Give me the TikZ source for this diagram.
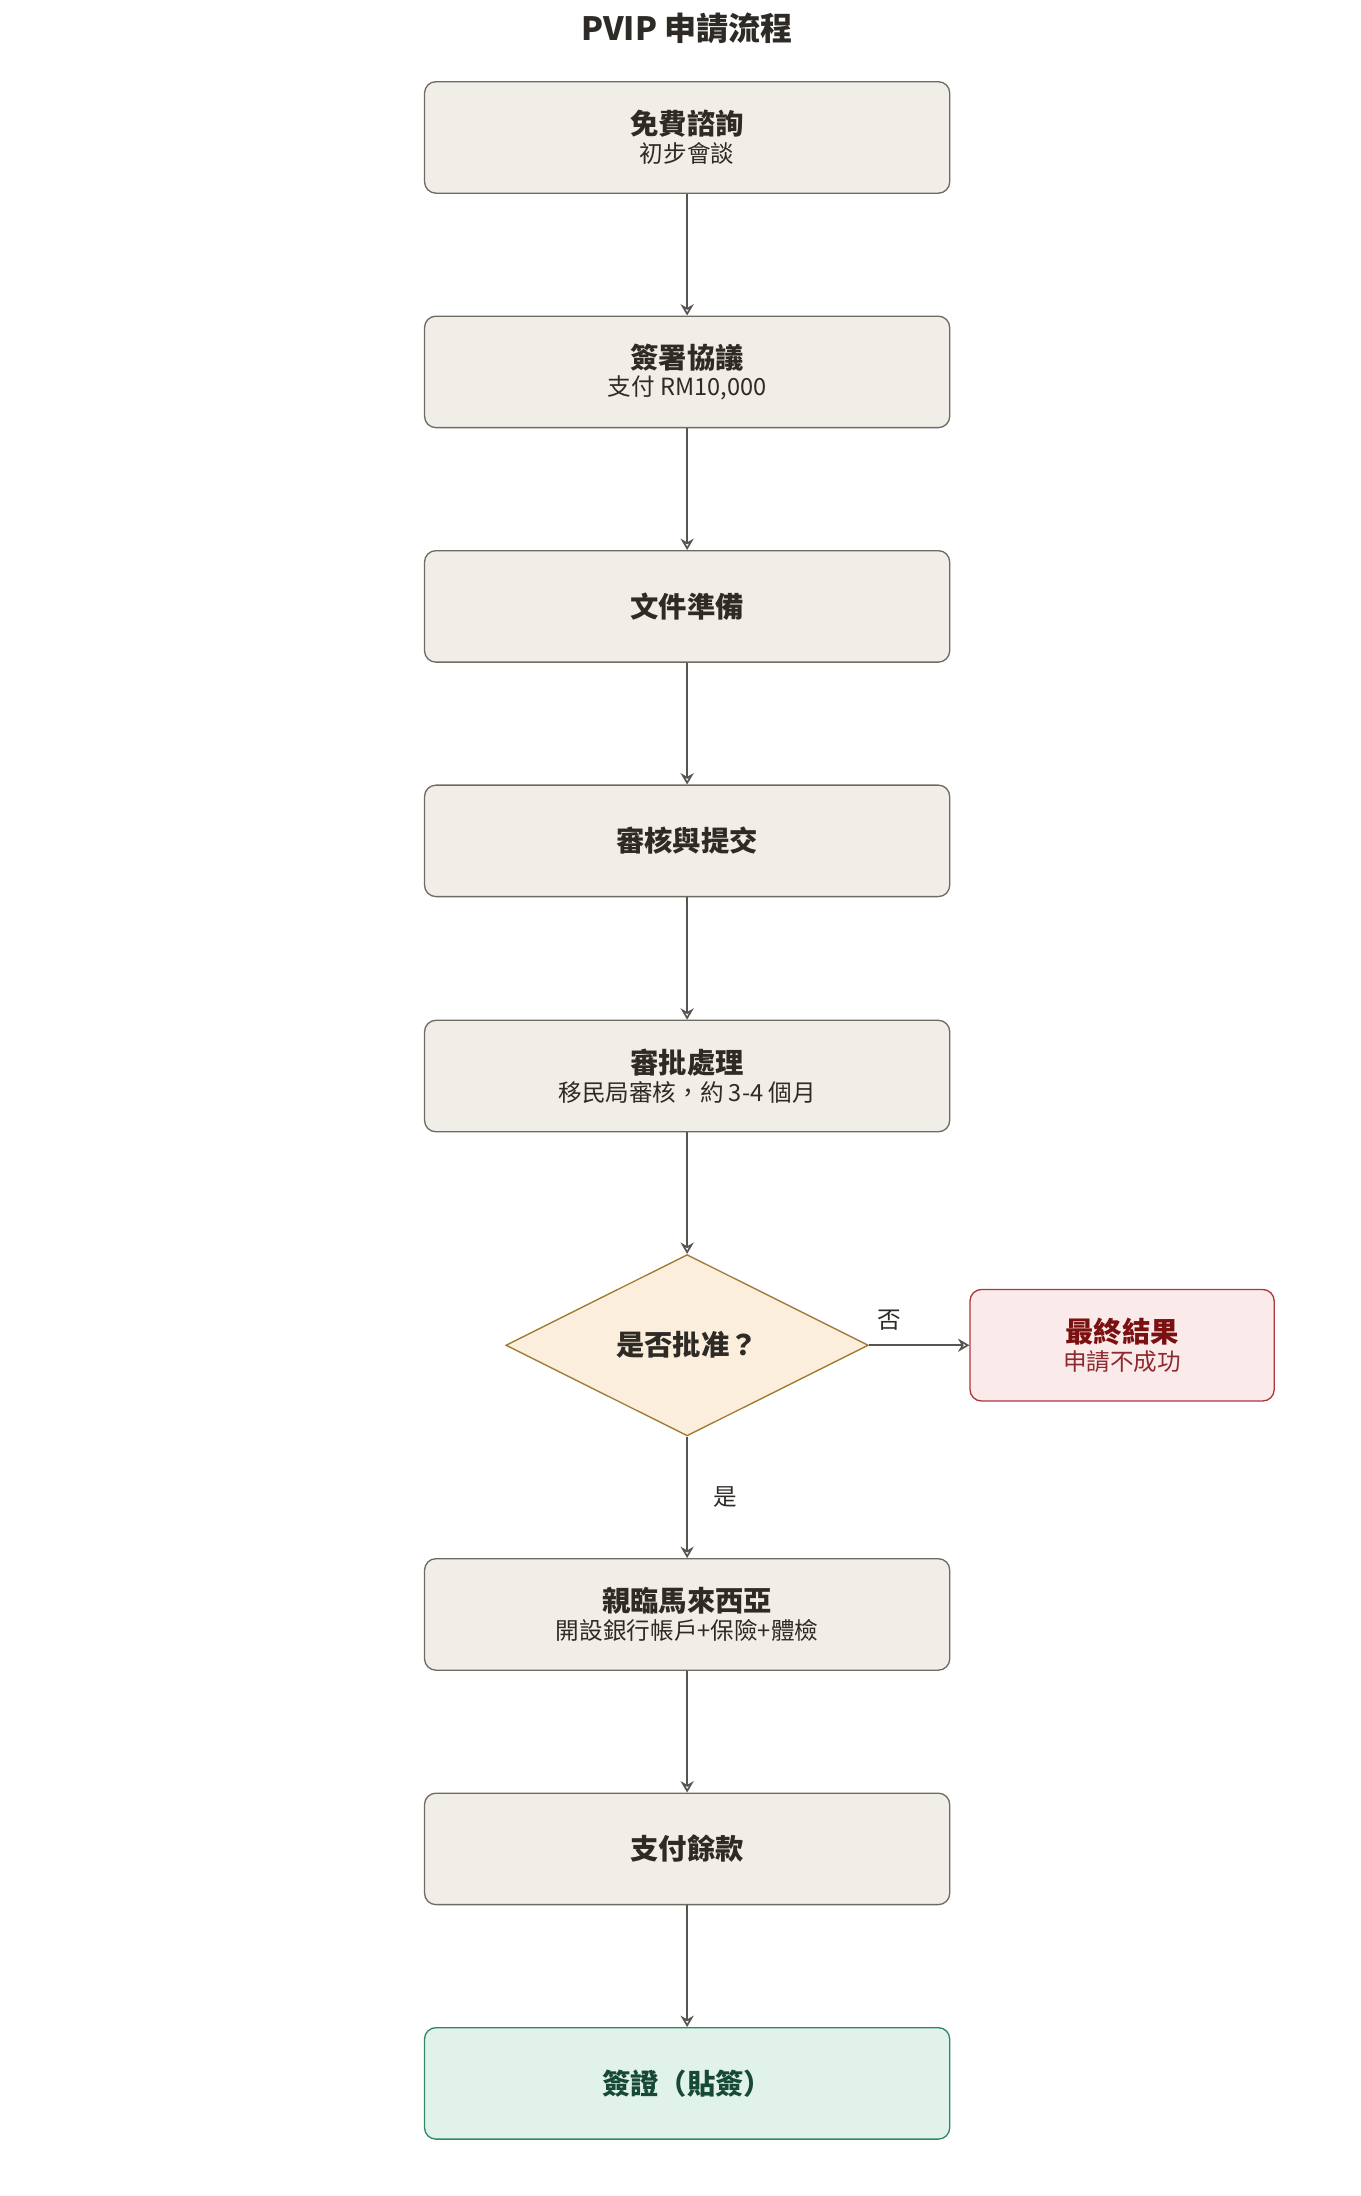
\documentclass[tikz,border=0pt]{standalone}
\usepackage{fontspec}
\setmainfont{Noto Sans CJK TC}
\usetikzlibrary{shapes.geometric,arrows.meta}
\definecolor{boxfill}{HTML}{F1EEE7}
\definecolor{boxdraw}{HTML}{6E6A64}
\definecolor{dfill}{HTML}{FBEEDC}
\definecolor{ddraw}{HTML}{A07830}
\definecolor{rfill}{HTML}{FBEAEA}
\definecolor{rdraw}{HTML}{B0343C}
\definecolor{rtext}{HTML}{7A1010}
\definecolor{gfill}{HTML}{E0F2EA}
\definecolor{gdraw}{HTML}{2E8A62}
\definecolor{gtext}{HTML}{174A35}
\definecolor{txt}{HTML}{2E2A26}
\begin{document}
\begin{tikzpicture}[x=0.75pt,y=-0.75pt,
  box/.style={draw=boxdraw,fill=boxfill,rounded corners=6pt,minimum width=278pt,minimum height=59pt,align=center,text=txt,line width=0.7pt},
  t/.style={font=\fontsize{15}{18}\selectfont\bfseries},
  s/.style={font=\fontsize{12.5}{15}\selectfont},
  arr/.style={draw=boxdraw!80!black,line width=0.9pt,-{Stealth[open,length=6pt,width=7pt]}},
  lab/.style={font=\fontsize{12.5}{15}\selectfont,text=txt}]
\useasboundingbox (0,0) rectangle (960,1550);
\node[font=\fontsize{17}{20}\selectfont\bfseries,text=txt] (title) at (485,20) {PVIP 申請流程};
\node[box] (b1) at (485,97) {{\fontsize{15}{18}\selectfont\bfseries 免費諮詢}\\[2pt]{\fontsize{12.5}{15}\selectfont 初步會談}};
\node[box] (b2) at (485,262.5) {{\fontsize{15}{18}\selectfont\bfseries 簽署協議}\\[2pt]{\fontsize{12.5}{15}\selectfont 支付 RM10,000}};
\node[box,t] (b3) at (485,428) {文件準備};
\node[box,t] (b4) at (485,593.5) {審核與提交};
\node[box] (b5) at (485,759.5) {{\fontsize{15}{18}\selectfont\bfseries 審批處理}\\[2pt]{\fontsize{12.5}{15}\selectfont 移民局審核，約 3-4 個月}};
\node[diamond,draw=ddraw,fill=dfill,minimum width=192pt,minimum height=96pt,inner sep=0pt,line width=0.7pt,aspect=2,text=txt,font=\fontsize{15}{18}\selectfont\bfseries] (d) at (485,949.5) {};
\node[text=txt,font=\fontsize{15}{18}\selectfont\bfseries] at (d.center) {是否批准？};
\node[draw=rdraw,fill=rfill,rounded corners=6pt,minimum width=161pt,minimum height=59pt,align=center,text=rtext,line width=0.7pt] (f) at (792,949.5) {{\fontsize{15}{18}\selectfont\bfseries 最終結果}\\[2pt]{\fontsize{12.5}{15}\selectfont\color{rdraw!80!black} 申請不成功}};
\node[box] (b6) at (485,1139.5) {{\fontsize{15}{18}\selectfont\bfseries 親臨馬來西亞}\\[2pt]{\fontsize{12.5}{15}\selectfont 開設銀行帳戶+保險+體檢}};
\node[box,t] (b7) at (485,1305) {支付餘款};
\node[box,t,draw=gdraw,fill=gfill,text=gtext] (b8) at (485,1470.5) {簽證（貼簽）};
\draw[arr] (b1) -- (b2);
\draw[arr] (b2) -- (b3);
\draw[arr] (b3) -- (b4);
\draw[arr] (b4) -- (b5);
\draw[arr] (b5) -- (d.north);
\draw[arr] (d.east) -- node[lab,above=4pt,pos=0.2] {否} (f.west);
\draw[arr] (d.south) -- node[lab,right=10pt] {是} (b6);
\draw[arr] (b6) -- (b7);
\draw[arr] (b7) -- (b8);
\end{tikzpicture}
\end{document}
